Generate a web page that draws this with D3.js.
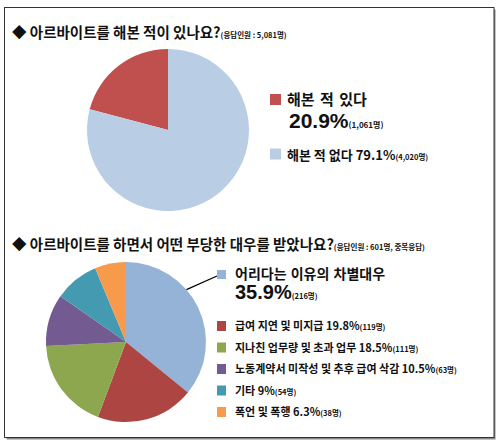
<!DOCTYPE html>
<html><head><meta charset="utf-8">
<script src="https://cdn.jsdelivr.net/npm/d3@7/dist/d3.min.js"></script>
<style>
html,body{margin:0;padding:0;background:#fff;}
svg{display:block;}
text{font-family:"Noto Sans CJK KR","Noto Sans",sans-serif;font-weight:bold;fill:#111;}
.num{font-family:"Liberation Sans",Arial,sans-serif;}
</style></head>
<body>
<script>
// ---- data ----
const q1Title = "◆ 아르바이트를 해본 적이 있나요?";
const q1Note = "(응답인원 : 5,081명)";
const q1Labels = ["해본 적 있다", "해본 적 없다"];
const q1Values = [20.9, 79.1];
const q1Counts = ["1,061명", "4,020명"];
const q1Colors = ["#C0504D", "#B9CDE5"];

const q2Title = "◆ 아르바이트를 하면서 어떤 부당한 대우를 받았나요?";
const q2Note = "(응답인원 : 601명, 중복응답)";
const q2Labels = ["어리다는 이유의 차별대우", "급여 지연 및 미지급", "지나친 업무량 및 초과 업무", "노동계약서 미작성 및 추후 급여 삭감", "기타", "폭언 및 폭행"];
const q2Values = [35.9, 19.8, 18.5, 10.5, 9, 6.3];
const q2Counts = ["216명", "119명", "111명", "63명", "54명", "38명"];
const q2Colors = ["#95B3D7", "#AD4543", "#8CA74E", "#735A91", "#449AB1", "#F79A4B"];

const W = 500, H = 444;
const svg = d3.select("body").append("svg").attr("width", W).attr("height", H);

// frame with shadow
svg.append("rect").attr("x", 6.5).attr("y", 9.5).attr("width", 489).attr("height", 430)
  .attr("fill", "#888").attr("stroke", "none");
svg.append("rect").attr("x", 4.5).attr("y", 7.5).attr("width", 489.5).attr("height", 430)
  .attr("fill", "#fff").attr("stroke", "#333").attr("stroke-width", 1);

function fmt(v){ return (Math.round(v*10)/10) + "%"; }

// ---- title 1 ----
const t1 = svg.append("text").attr("x", 12).attr("y", 38);
t1.append("tspan").attr("font-size", 14.5).text(q1Title);
t1.append("tspan").attr("font-size", 7.5).text(q1Note);

// ---- pie 1 ----
const tau = 2 * Math.PI;
const pie1 = d3.pie().sort(null)
  .startAngle(-q1Values[0] / 100 * tau)
  .endAngle(tau - q1Values[0] / 100 * tau);
const arc1 = d3.arc().innerRadius(0).outerRadius(81);
const g1 = svg.append("g").attr("transform", "translate(168,130)");
g1.selectAll("path").data(pie1(q1Values)).join("path")
  .attr("d", arc1).attr("fill", (d, i) => q1Colors[i]);

// ---- legend 1 ----
const L1 = svg.append("g");
L1.append("rect").attr("x", 270).attr("y", 94).attr("width", 11).attr("height", 11).attr("fill", q1Colors[0]);
L1.append("text").attr("x", 287).attr("y", 105).attr("font-size", 15).attr("word-spacing", 2).text(q1Labels[0]);
const big1 = L1.append("text").attr("x", 289).attr("y", 128);
big1.append("tspan").attr("class", "num").attr("font-size", 21).text(fmt(q1Values[0]));
big1.append("tspan").attr("font-size", 8).text("(" + q1Counts[0] + ")");
L1.append("rect").attr("x", 270).attr("y", 148.5).attr("width", 11).attr("height", 11).attr("fill", q1Colors[1]);
const s1 = L1.append("text").attr("x", 287).attr("y", 160);
s1.append("tspan").attr("font-size", 13).text(q1Labels[1] + " " + fmt(q1Values[1]));
s1.append("tspan").attr("font-size", 7.5).text("(" + q1Counts[1] + ")");

// ---- title 2 ----
const t2 = svg.append("text").attr("x", 12).attr("y", 250);
t2.append("tspan").attr("font-size", 14.5).text(q2Title);
t2.append("tspan").attr("font-size", 7.5).text(q2Note);

// ---- pie 2 ----
const pie2 = d3.pie().sort(null);
const R2 = 80;
const arc2 = d3.arc().innerRadius(0).outerRadius(R2);
const cx2 = 126, cy2 = 342;
const g2 = svg.append("g").attr("transform", `translate(${cx2},${cy2})`);
const arcs2 = pie2(q2Values);
g2.selectAll("path").data(arcs2).join("path")
  .attr("d", arc2).attr("fill", (d, i) => q2Colors[i]);

// leader line from first slice
const a0 = arcs2[0].startAngle + 0.38 * (arcs2[0].endAngle - arcs2[0].startAngle);
const lx = cx2 + R2 * Math.sin(a0), ly = cy2 - R2 * Math.cos(a0);
svg.append("line").attr("x1", lx).attr("y1", ly).attr("x2", 217).attr("y2", 276)
  .attr("stroke", "#000").attr("stroke-width", 1.2);

// ---- legend 2 ----
const L2 = svg.append("g");
L2.append("rect").attr("x", 217).attr("y", 270).attr("width", 9).attr("height", 9).attr("fill", q2Colors[0]);
L2.append("text").attr("x", 235).attr("y", 279).attr("font-size", 14).attr("font-weight", "normal").attr("word-spacing", 1).text(q2Labels[0]);
const big2 = L2.append("text").attr("x", 235).attr("y", 299);
big2.append("tspan").attr("class", "num").attr("font-size", 20).text(fmt(q2Values[0]));
big2.append("tspan").attr("font-size", 7.5).text("(" + q2Counts[0] + ")");

const rowY = d3.scalePoint().domain(d3.range(1, q2Labels.length)).range([326, 412]);
for (let i = 1; i < q2Labels.length; i++) {
  const y = rowY(i);
  L2.append("rect").attr("x", 217).attr("y", y - 5).attr("width", 9).attr("height", 10).attr("fill", q2Colors[i]);
  const t = L2.append("text").attr("x", 235).attr("y", y + 4);
  t.append("tspan").attr("font-size", 11).text(q2Labels[i] + " " + fmt(q2Values[i]));
  t.append("tspan").attr("font-size", 7.5).text("(" + q2Counts[i] + ")");
}
</script>
</body></html>
